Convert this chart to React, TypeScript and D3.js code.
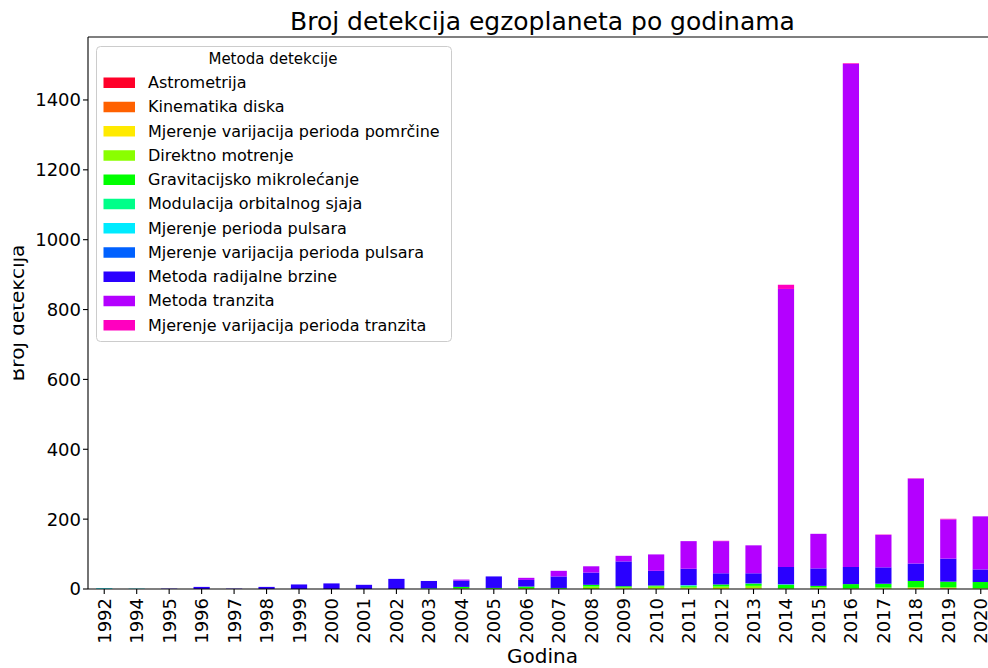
import React from "react";
import * as d3 from "d3";

const years = ["1992","1994","1995","1996","1997","1998","1999","2000","2001","2002","2003","2004","2005","2006","2007","2008","2009","2010","2011","2012","2013","2014","2015","2016","2017","2018","2019","2020"];

const methods = [
  "Astrometrija",
  "Kinematika diska",
  "Mjerenje varijacija perioda pomrčine",
  "Direktno motrenje",
  "Gravitacijsko mikrolećanje",
  "Modulacija orbitalnog sjaja",
  "Mjerenje perioda pulsara",
  "Mjerenje varijacija perioda pulsara",
  "Metoda radijalne brzine",
  "Metoda tranzita",
  "Mjerenje varijacija perioda tranzita",
];

const colors = ["#ff0029","#ff6100","#ffea00","#8aff00","#00ff00","#00ff89","#00ebff","#0061ff","#2a00ff","#b400ff","#ff00bf"];

//                       92 94 95 96 97 98 99 00 01 02 03 04 05 06 07 08 09 10 11 12 13 14 15 16 17 18 19 20
const astrometrija     = [0, 0, 0, 0, 0, 0, 0, 0, 0, 0, 0, 0, 0, 0, 0, 0, 0, 0, 0, 0, 1, 0, 0, 0, 0, 0, 1, 0];
const kinematika       = [0, 0, 0, 0, 0, 0, 0, 0, 0, 0, 0, 0, 0, 0, 0, 0, 0, 0, 0, 0, 0, 0, 0, 0, 0, 0, 1, 0];
const pomrcina         = [0, 0, 0, 0, 0, 0, 0, 0, 0, 0, 0, 0, 0, 0, 0, 0, 2, 2, 2, 3, 2, 0, 1, 0, 1, 3, 1, 1];
const direktno         = [0, 0, 0, 0, 0, 0, 0, 0, 0, 0, 0, 2, 1, 3, 1, 7, 3, 5, 3, 4, 6, 2, 4, 2, 3, 2, 2, 1];
const mikrolecanje     = [0, 0, 0, 0, 0, 0, 0, 0, 0, 0, 1, 4, 2, 4, 2, 5, 3, 3, 3, 6, 6, 10, 4, 12, 11, 18, 16, 18];
const orbitalniSjaj    = [0, 0, 0, 0, 0, 0, 0, 0, 0, 0, 0, 0, 0, 0, 0, 0, 0, 0, 2, 0, 1, 1, 0, 0, 0, 0, 0, 0];
const pulsar           = [2, 1, 0, 0, 0, 0, 0, 0, 0, 0, 1, 0, 0, 0, 0, 0, 0, 0, 1, 0, 0, 0, 0, 0, 0, 0, 0, 0];
const pulsarVarijacije = [0, 0, 0, 0, 0, 0, 0, 0, 0, 0, 0, 0, 0, 0, 0, 0, 0, 0, 0, 0, 0, 1, 0, 0, 0, 0, 0, 0];
const radijalnaBrzina  = [0, 0, 1, 6, 1, 6, 13, 16, 12, 29, 21, 18, 33, 19, 33, 35, 71, 42, 47, 32, 29, 49, 50, 49, 47, 50, 66, 36];
const tranzit          = [0, 0, 0, 0, 0, 0, 0, 0, 0, 0, 0, 3, 0, 6, 16, 18, 16, 47, 79, 92, 80, 796, 99, 1440, 93, 243, 112, 152];
const ttv              = [0, 0, 0, 0, 0, 0, 0, 0, 0, 0, 0, 0, 0, 0, 0, 0, 0, 0, 0, 1, 0, 12, 0, 2, 1, 1, 2, 0];

const series = [astrometrija, kinematika, pomrcina, direktno, mikrolecanje, orbitalniSjaj, pulsar, pulsarVarijacije, radijalnaBrzina, tranzit, ttv];

const yTicks = [0, 200, 400, 600, 800, 1000, 1200, 1400];

const W = 988, H = 668;
const left = 88, right = 997, top = 37, bottom = 589;
const FONT = "DejaVu Sans, sans-serif";

export default function App() {
  const rows = years.map((y, i) => {
    const r: any = { year: y };
    methods.forEach((m, k) => (r[m] = series[k][i]));
    return r;
  });
  const stacked = d3.stack<any>().keys(methods)(rows);
  const totals = rows.map((r) => d3.sum(methods, (m) => r[m]));
  const maxT = d3.max(totals) as number;

  const x = d3.scaleBand<string>().domain(years).range([left, right]).paddingInner(0.5).paddingOuter(0.25);
  const y = d3.scaleLinear().domain([0, maxT * 1.05]).range([bottom, top]);

  const legX = 96.5, legY = 46.5, legW = 355, legH = 295;
  const rowY = (k: number) => 82.5 + k * 24.25;

  return (
    <svg width={W} height={H} style={{ position: "absolute", left: 0, top: 0, display: "block", background: "#fff" }} fontFamily={FONT}>
      <defs>
        <clipPath id="ylabclip">
          <rect x={13.5} y={0} width={100} height={H} />
        </clipPath>
      </defs>
      <rect x={0} y={0} width={W} height={H} fill="#fff" />
      {stacked.map((s, k) => (
        <g key={k} fill={colors[k]}>
          {s.map((d, i) => {
            const h = y(d[0]) - y(d[1]);
            if (h <= 0) return null;
            return <rect key={i} x={x(years[i])} y={y(d[1])} width={x.bandwidth()} height={h} />;
          })}
        </g>
      ))}
      {/* spines */}
      <line x1={left} x2={left} y1={top} y2={bottom} stroke="#000" strokeWidth={1.1} />
      <line x1={left} x2={right} y1={bottom} y2={bottom} stroke="#000" strokeWidth={1.1} />
      <line x1={left} x2={right} y1={top} y2={top} stroke="#000" strokeWidth={1.1} />
      <line x1={right} x2={right} y1={top} y2={bottom} stroke="#000" strokeWidth={1.1} />
      {/* y ticks */}
      {yTicks.map((t) => (
        <g key={t}>
          <line x1={left - 5} x2={left} y1={y(t)} y2={y(t)} stroke="#000" strokeWidth={1.1} />
          <text x={81} y={y(t)} dy="0.36em" textAnchor="end" fontSize={18} fill="#000">{t}</text>
        </g>
      ))}
      {/* x ticks */}
      {years.map((yr) => {
        const cx = (x(yr) as number) + x.bandwidth() / 2;
        return (
          <g key={yr}>
            <line x1={cx} x2={cx} y1={bottom} y2={bottom + 5} stroke="#000" strokeWidth={1.1} />
            <text transform={`translate(${cx},${bottom + 9}) rotate(-90)`} textAnchor="end" dy="0.36em" fontSize={18} fill="#000">{yr}</text>
          </g>
        );
      })}
      {/* title & labels */}
      <text x={(left + right) / 2} y={30} textAnchor="middle" fontSize={25} fill="#000">Broj detekcija egzoplaneta po godinama</text>
      <text x={(left + right) / 2} y={663} textAnchor="middle" fontSize={20} fill="#000">Godina</text>
      <g clipPath="url(#ylabclip)">
        <text transform={`translate(24,${(top + bottom) / 2}) rotate(-90)`} textAnchor="middle" fontSize={20} fill="#000">Broj detekcija</text>
      </g>
      {/* legend */}
      <rect x={legX} y={legY} width={legW} height={legH} rx={4} ry={4} fill="#fff" fillOpacity={0.8} stroke="#cccccc" strokeWidth={1} />
      <text x={273} y={64} textAnchor="middle" fontSize={15} fill="#000">Metoda detekcije</text>
      {methods.map((m, k) => (
        <g key={m}>
          <rect x={103.5} y={rowY(k) - 5} width={31.5} height={10.5} fill={colors[k]} />
          <text x={148} y={rowY(k)} dy="0.35em" fontSize={16} fill="#000">{m}</text>
        </g>
      ))}
    </svg>
  );
}
